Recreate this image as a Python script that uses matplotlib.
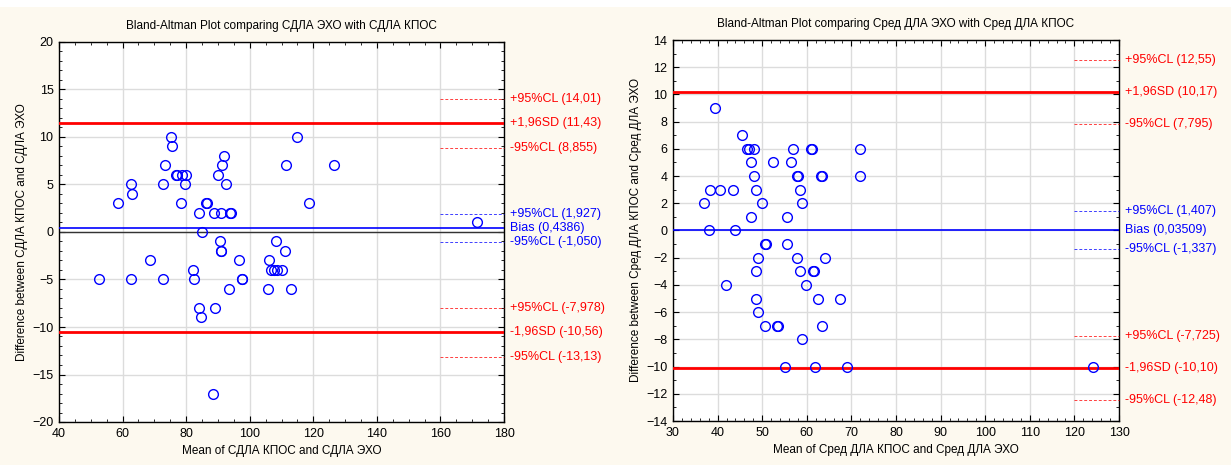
import matplotlib
matplotlib.use("Agg")
import matplotlib.pyplot as plt
from matplotlib.ticker import MultipleLocator
from matplotlib.patches import Rectangle

plt.rcParams["font.family"] = ["Liberation Sans", "DejaVu Sans"]

# %% Data

# Left panel: СДЛА
left_mean = [58.5, 62.5, 62.9, 72.6, 73.4, 75.1, 75.6, 76.8, 77.2, 78.5, 78.8, 79.5,
             80.1, 84.0, 84.9, 86.2, 86.5, 88.9, 89.9, 91.0, 91.4, 91.8, 92.6, 93.9,
             94.2, 90.6, 90.9, 91.1, 108.4, 111.0, 111.5, 115.0, 118.5, 126.4, 68.6,
             52.6, 62.5, 72.6, 82.0, 82.6, 84.1, 84.6, 89.0, 88.4, 93.4, 96.6, 97.5,
             97.7, 106.2, 105.7, 106.8, 107.7, 108.6, 110.2, 112.9, 171.4]
left_diff = [3, 5, 4, 5, 7, 10, 9, 6, 6, 3, 6, 5,
             6, 2, 0, 3, 3, 2, 6, 2, 7, 8, 5, 2,
             2, -1, -2, -2, -1, -2, 7, 10, 3, 7, -3,
             -5, -5, -5, -4, -5, -8, -9, -8, -17, -6, -3, -5,
             -5, -3, -6, -4, -4, -4, -4, -6, 1]
left_levels = [14.01, 11.43, 8.855, 1.927, 0.4386, -1.050, -7.978, -10.56, -13.13]
left_labels = ["+95%CL (14,01)", "+1,96SD (11,43)", "-95%CL (8,855)",
               "+95%CL (1,927)", "Bias (0,4386)", "-95%CL (-1,050)",
               "+95%CL (-7,978)", "-1,96SD (-10,56)", "-95%CL (-13,13)"]

# Right panel: Сред ДЛА
right_mean = [39.4, 45.4, 46.7, 47.1, 48.1, 56.9, 61.0, 61.2, 71.9, 47.4, 52.5, 56.5,
              48.1, 57.9, 58.1, 63.1, 63.3, 71.9, 38.4, 40.5, 43.4, 48.5, 58.5, 36.9,
              49.9, 59.0, 47.4, 55.5, 38.1, 44.0, 50.6, 50.8, 55.5, 49.0, 57.9, 64.0,
              48.5, 58.4, 61.5, 61.7, 41.9, 59.9, 48.5, 62.5, 67.5, 49.0, 50.6, 53.4,
              53.6, 63.4, 59.0, 55.0, 61.9, 69.0, 124.2]
right_diff = [9, 7, 6, 6, 6, 6, 6, 6, 6, 5, 5, 5,
              4, 4, 4, 4, 4, 4, 3, 3, 3, 3, 3, 2,
              2, 2, 1, 1, 0, 0, -1, -1, -1, -2, -2, -2,
              -3, -3, -3, -3, -4, -4, -5, -5, -5, -6, -7, -7,
              -7, -7, -8, -10, -10, -10, -10]
right_levels = [12.55, 10.17, 7.795, 1.407, 0.03509, -1.337, -7.725, -10.10, -12.48]
right_labels = ["+95%CL (12,55)", "+1,96SD (10,17)", "-95%CL (7,795)",
                "+95%CL (1,407)", "Bias (0,03509)", "-95%CL (-1,337)",
                "+95%CL (-7,725)", "-1,96SD (-10,10)", "-95%CL (-12,48)"]

# style of each level: (colour, solid?)
level_kind = ["r", "r-solid", "r", "b", "b-solid", "b", "r", "r-solid", "r"]

# %% Figure

W, H = 1231, 465
fig = plt.figure(figsize=(W / 100, H / 100), dpi=100, facecolor="#fdf9ef")
fig.patches.append(Rectangle((0, 1 - 7 / H), 1, 7 / H, transform=fig.transFigure,
                             facecolor="white", edgecolor="none", zorder=-1))


def panel(rect, mean, diff, levels, labels, xlim, ylim, xstep, ystep, xminor, yminor,
          dash_from, title, xlabel, ylabel, show_zero):
    ax = fig.add_axes(rect)
    ax.set_facecolor("white")
    ax.set_xlim(*xlim)
    ax.set_ylim(*ylim)
    ax.xaxis.set_major_locator(MultipleLocator(xstep))
    ax.yaxis.set_major_locator(MultipleLocator(ystep))
    ax.xaxis.set_minor_locator(MultipleLocator(xminor))
    ax.yaxis.set_minor_locator(MultipleLocator(yminor))
    ax.grid(True, which="major", color="#dcdcdc", linewidth=1.0)
    ax.set_axisbelow(True)
    ax.tick_params(which="both", direction="in", top=True, right=True,
                   labelsize=9, colors="black", pad=4)
    ax.tick_params(which="major", length=4)
    ax.tick_params(which="minor", length=2)
    for s in ax.spines.values():
        s.set_linewidth(1.0)

    if show_zero:
        ax.axhline(0, color="#333333", linewidth=1.0, zorder=2)

    for lev, lab, kind in zip(levels, labels, level_kind):
        col = "#ff0000" if kind.startswith("r") else "#0000ff"
        if kind.endswith("solid"):
            lw = 2.0 if col == "#ff0000" else 1.2
            ax.axhline(lev, color=col, linewidth=lw, zorder=3)
        else:
            ax.plot([dash_from, xlim[1]], [lev, lev], color=col, linewidth=0.7,
                    linestyle=(0, (3, 2)), alpha=0.75, zorder=3, clip_on=False)
        ax.annotate(lab, xy=(1, lev), xycoords=("axes fraction", "data"),
                    xytext=(6, 0), textcoords="offset pixels",
                    ha="left", va="center", fontsize=9, color=col)

    ax.plot(mean, diff, linestyle="none", marker="o", markersize=7,
            markerfacecolor="none", markeredgecolor="#0000ff",
            markeredgewidth=1.0, zorder=4, clip_on=False)

    ax.set_title(title, fontsize=8.5, pad=9)
    ax.set_xlabel(xlabel, fontsize=8.5, labelpad=4)
    ax.set_ylabel(ylabel, fontsize=8.5, labelpad=3)
    return ax


panel([59 / W, 1 - 422 / H, 445 / W, 380 / H], left_mean, left_diff,
      left_levels, left_labels, (40, 180), (-20, 20), 20, 5, 5, 1, 160,
      "Bland-Altman Plot comparing СДЛА ЭХО with СДЛА КПОС",
      "Mean of СДЛА КПОС and СДЛА ЭХО",
      "Difference between СДЛА КПОС and СДЛА ЭХО", True)

panel([673 / W, 1 - 421 / H, 446 / W, 381 / H], right_mean, right_diff,
      right_levels, right_labels, (30, 130), (-14, 14), 10, 2, 2, 1, 120,
      "Bland-Altman Plot comparing Сред ДЛА ЭХО with Сред ДЛА КПОС",
      "Mean of Сред ДЛА КПОС and Сред ДЛА ЭХО",
      "Difference between Сред ДЛА КПОС and Сред ДЛА ЭХО", False)

fig.savefig("out.png", dpi=100, facecolor=fig.get_facecolor())
